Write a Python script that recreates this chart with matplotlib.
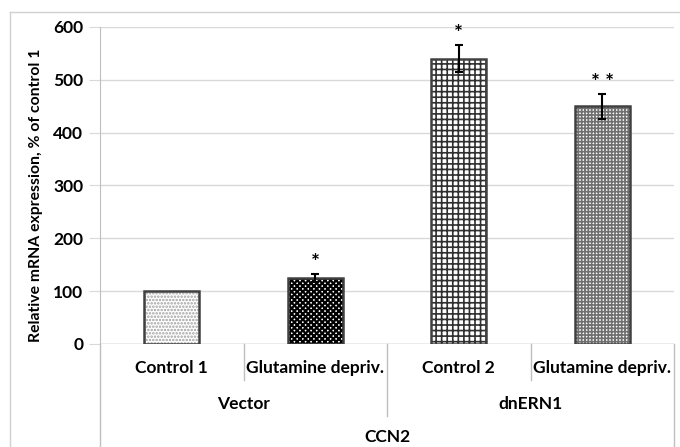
import matplotlib.pyplot as plt
import matplotlib.transforms as mtransforms
from matplotlib.lines import Line2D

plt.rcParams['font.family'] = ['Lato', 'DejaVu Sans']
plt.rcParams['font.weight'] = 'bold'

conditions = ['Control 1', 'Glutamine depriv.', 'Control 2', 'Glutamine depriv.']
groups = ['Vector', 'dnERN1']
gene = 'CCN2'
values = [100, 125, 540, 450]
errors = [0, 7, 25, 24]
marks = ['', '*', '*', '* *']
hatches = ['.....', 'xxxxxx', '+++', '+++++']
hatch_colors = ['#a0a0a0', '#000000', '#303030', '#707070']
hatch_widths = [1.2, 1.6, 1.2, 1.2]

W, H = 680, 447
fig = plt.figure(figsize=(W / 100, H / 100), dpi=100)
left, right, bottom, top = 100, 674, 344, 27
ax = fig.add_axes([left / W, 1 - bottom / H, (right - left) / W, (bottom - top) / H])

x = list(range(len(values)))
for i in x:
    with plt.rc_context({'hatch.linewidth': hatch_widths[i]}):
        ax.bar(i, values[i], width=0.38, color='white', edgecolor=hatch_colors[i],
               hatch=hatches[i], linewidth=0, zorder=2)
    ax.bar(i, values[i], width=0.38, color='none', edgecolor='#404040',
           linewidth=1.8, zorder=3)
    if errors[i]:
        ax.errorbar(i, values[i], yerr=errors[i], color='black', capsize=3,
                    elinewidth=1.5, capthick=1.5, zorder=4)
    if marks[i]:
        ax.text(i, values[i] + errors[i] + 2, marks[i], ha='center', va='bottom',
                fontsize=15, fontweight='bold')

ax.set_xlim(-0.5, 3.5)
ax.set_ylim(0, 600)
ax.set_yticks(range(0, 601, 100))
ax.yaxis.grid(True, color='#d9d9d9', linewidth=1)
ax.set_axisbelow(True)
ax.tick_params(axis='y', length=8, color='#d9d9d9', labelsize=12.5, pad=4)
ax.tick_params(axis='x', length=0, labelbottom=False)
for s in ['top', 'right', 'bottom']:
    ax.spines[s].set_visible(False)
ax.spines['left'].set_color('#bfbfbf')
ax.axhline(0, color='#bfbfbf', linewidth=1, zorder=1)
ax.set_ylabel('Relative mRNA expression, % of control 1', fontsize=11.3,
              fontweight='bold')
ax.yaxis.set_label_coords(-57 / (right - left), 0.47)

# multi-level category axis
def ypix(p):
    return -(p - bottom) / (bottom - top)

trans = mtransforms.blended_transform_factory(ax.transData, ax.transAxes)
for i, c in enumerate(conditions):
    ax.text(i, ypix(368), c, transform=trans, ha='center', va='center', fontsize=12.5)
for g, label in enumerate(groups):
    ax.text(2 * g + 0.5, ypix(404), label, transform=trans, ha='center', va='center', fontsize=12.5)
ax.text(1.5, ypix(437), gene, transform=trans, ha='center', va='center', fontsize=12.5)

seps = [(-0.5, 447), (0.5, 380), (1.5, 416), (2.5, 380), (3.5, 447)]
for xs, yend in seps:
    ax.add_line(Line2D([xs, xs], [0, ypix(yend)], transform=trans, color='#bfbfbf',
                       linewidth=1, clip_on=False))

# outer chart border
fig.add_artist(Line2D([10 / W, 10 / W], [1 - 12 / H, 0], color='#d0d0d0', linewidth=1))
fig.add_artist(Line2D([10 / W, 1], [1 - 12 / H, 1 - 12 / H], color='#d0d0d0', linewidth=1))

fig.savefig('out.png', dpi=100)
